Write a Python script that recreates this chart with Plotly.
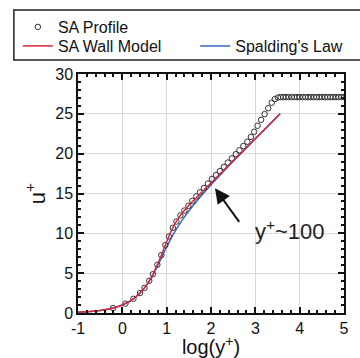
import plotly.graph_objects as go

# ---- data ----
profile_logy = [-0.21, 0.07, 0.25, 0.40, 0.50, 0.607, 0.69, 0.79, 0.88, 0.97, 1.05, 1.14,
                1.22, 1.31, 1.40, 1.49, 1.58, 1.67, 1.75, 1.84, 1.93, 2.02, 2.11, 2.20,
                2.29, 2.38, 2.47, 2.56, 2.64, 2.73, 2.82, 2.90, 2.975, 3.05, 3.13, 3.21,
                3.29, 3.37, 3.44, 3.51,
                3.57, 3.63, 3.69, 3.75, 3.82, 3.88, 3.94, 4.00, 4.07, 4.13, 4.19, 4.25,
                4.32, 4.38, 4.44, 4.50, 4.57, 4.63, 4.69, 4.75, 4.82, 4.88, 4.94, 5.00]
profile_u = [0.62, 1.17, 1.78, 2.51, 3.16, 4.04, 4.87, 6.05, 7.26, 8.53, 9.61, 10.69,
             11.48, 12.25, 12.86, 13.45, 14.07, 14.64, 15.14, 15.69, 16.24, 16.82, 17.32, 17.81,
             18.34, 18.88, 19.40, 19.94, 20.43, 20.96, 21.50, 22.10, 22.75, 23.50, 24.25, 24.97,
             25.70, 26.40, 26.85, 27.05,
             27.1, 27.1, 27.1, 27.1, 27.1, 27.1, 27.1, 27.1, 27.1, 27.1, 27.1, 27.1,
             27.1, 27.1, 27.1, 27.1, 27.1, 27.1, 27.1, 27.1, 27.1, 27.1, 27.1, 27.1]

wall_logy = [-1.0, -0.75, -0.5, -0.25, 0.0, 0.25, 0.5, 0.6, 0.699, 0.78, 0.845, 0.903,
             1.0, 1.079, 1.176, 1.301, 1.477, 1.699, 2.0, 2.5, 3.0, 3.56]
wall_u = [0.10, 0.178, 0.316, 0.562, 1.0, 1.78, 3.16, 3.96, 4.95, 5.96, 6.77, 7.58,
          8.95, 10.0, 11.09, 12.19, 13.38, 14.66, 16.32, 19.10, 21.90, 25.02]

spal_logy = [-1.0, -0.5, 0.0, 0.302, 0.479, 0.608, 0.712, 0.803, 0.888, 0.974, 1.064,
             1.163, 1.272, 1.394, 1.527, 1.672, 1.826, 1.987, 2.154, 2.325, 2.673,
             3.027, 3.382, 3.560]
spal_u = [0.10, 0.316, 1.0, 2.0, 3.0, 4.0, 5.0, 6.0, 7.0, 8.0, 9.0,
          10.0, 11.0, 12.0, 13.0, 14.0, 15.0, 16.0, 17.0, 18.0, 20.0,
          22.0, 24.0, 25.0]

x_tickvals = [-1, 0, 1, 2, 3, 4, 5]
x_ticktext = ["-1", "0", "1", "2", "3", "4", "5"]
y_tickvals = [0, 5, 10, 15, 20, 25, 30]
y_ticktext = ["0", "5", "10", "15", "20", "25", "30"]

FONT = "Arial, Liberation Sans, sans-serif"
RED = "#d9263b"
BLUE = "#3466c9"

fig = go.Figure()
fig.add_trace(go.Scatter(x=spal_logy, y=spal_u, mode="lines", name="Spalding's Law",
                         line=dict(color=BLUE, width=1.5, shape="spline"), legend="legend3",
                         showlegend=True))
fig.add_trace(go.Scatter(x=profile_logy, y=profile_u, mode="markers", name="SA Profile",
                         marker=dict(symbol="circle-open", size=5.5, color="#333",
                                     line=dict(width=1, color="#333")),
                         legend="legend", showlegend=True))
fig.add_trace(go.Scatter(x=wall_logy, y=wall_u, mode="lines", name="SA Wall Model",
                         line=dict(color=RED, width=1.5, shape="spline"), legend="legend2",
                         showlegend=True))

axis_common = dict(
    ticks="inside", ticklen=6, tickwidth=1.5, tickcolor="#111",
    showline=True, linecolor="#111", linewidth=1.5, mirror="allticks",
    showgrid=True, gridcolor="#d9d9d9", gridwidth=1, zeroline=False,
    automargin=False,
    tickfont=dict(family=FONT, size=16, color="#111"),
)

LEG_FONT = dict(family=FONT, size=16, color="#111")

fig.update_layout(
    width=360, height=358, autosize=False,
    margin=dict(l=78, r=16, t=74, b=45, autoexpand=False),
    paper_bgcolor="white", plot_bgcolor="white",
    showlegend=True,
    font=dict(family=FONT, color="#111"),
    xaxis=dict(range=[-1, 5], tickmode="array", tickvals=x_tickvals, ticktext=x_ticktext,
               minor=dict(dtick=0.2, ticks="inside", ticklen=3, tickcolor="#111", showgrid=False),
               title=dict(text="log(y<sup>+</sup>)", font=dict(family=FONT, size=20, color="#111"),
                          standoff=2),
               **axis_common),
    yaxis=dict(range=[0, 30], tickmode="array", tickvals=y_tickvals, ticktext=y_ticktext,
               minor=dict(dtick=1, ticks="inside", ticklen=3, tickcolor="#111", showgrid=False),
               title=dict(text="u<sup>+</sup>", font=dict(family=FONT, size=22, color="#111"),
                          standoff=4),
               **axis_common),
    legend=dict(x=(18 - 78) / 265.5, xanchor="left", y=(313 - 27) / 239, yanchor="middle",
                visible=True, bgcolor="rgba(0,0,0,0)", font=LEG_FONT),
    legend2=dict(x=(18 - 78) / 265.5, xanchor="left", y=(313 - 46) / 239, yanchor="middle",
                 bgcolor="rgba(0,0,0,0)", font=LEG_FONT),
    legend3=dict(x=(195 - 78) / 265.5, xanchor="left", y=(313 - 46) / 239, yanchor="middle",
                 bgcolor="rgba(0,0,0,0)", font=LEG_FONT),
    shapes=[dict(type="rect", xref="paper", yref="paper",
                 x0=(14 - 78) / 265.5, x1=(365 - 78) / 265.5,
                 y0=(313 - 60) / 239, y1=(313 - 10) / 239,
                 line=dict(color="#222", width=1.5), fillcolor="rgba(0,0,0,0)")],
    annotations=[
        dict(x=2.09, y=15.65, ax=2.66, ay=11.25, xref="x", yref="y", axref="x", ayref="y",
             text="", showarrow=True, arrowhead=2, arrowsize=1.5, arrowwidth=2,
             arrowcolor="#111"),
        dict(x=3.78, y=10.4, xref="x", yref="y", text="y<sup>+</sup>~100", showarrow=False,
             font=dict(family=FONT, size=22, color="#222")),
    ],
)

fig.write_html("out.html")
